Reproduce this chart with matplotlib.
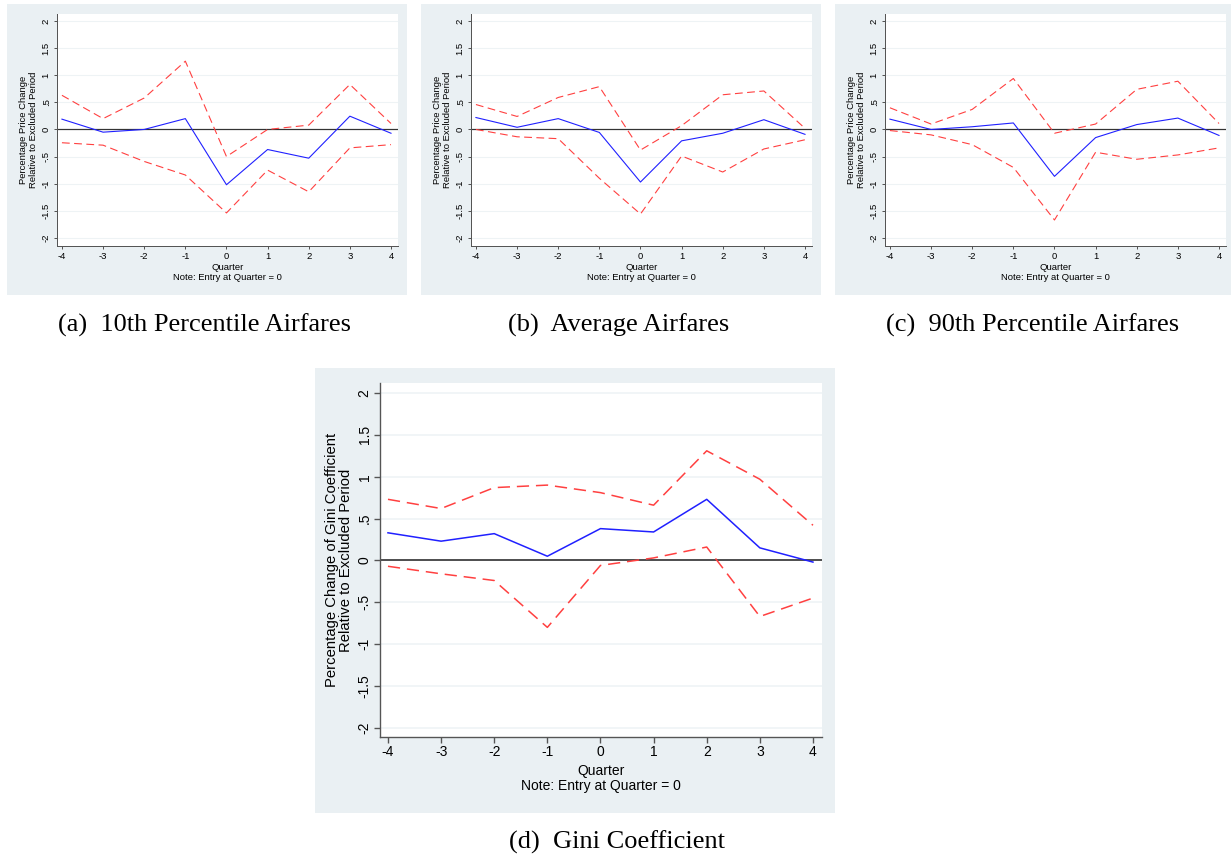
import matplotlib.pyplot as plt
import numpy as np
from matplotlib.patches import Rectangle

plt.rcParams['font.family'] = ['Liberation Sans', 'DejaVu Sans']

quarters = [-4, -3, -2, -1, 0, 1, 2, 3, 4]

# (a) 10th percentile airfares
p10_est = [0.19, -0.05, 0.0, 0.20, -1.02, -0.37, -0.53, 0.245, -0.07]
p10_hi = [0.63, 0.20, 0.58, 1.26, -0.50, 0.0, 0.08, 0.83, 0.11]
p10_lo = [-0.245, -0.29, -0.59, -0.84, -1.54, -0.75, -1.15, -0.34, -0.28]

# (b) average airfares
avg_est = [0.22, 0.04, 0.20, -0.055, -0.97, -0.21, -0.07, 0.18, -0.09]
avg_hi = [0.46, 0.24, 0.59, 0.79, -0.38, 0.07, 0.64, 0.71, 0.02]
avg_lo = [0.0, -0.135, -0.17, -0.90, -1.56, -0.49, -0.785, -0.36, -0.19]

# (c) 90th percentile airfares
p90_est = [0.19, 0.0, 0.05, 0.12, -0.865, -0.15, 0.09, 0.21, -0.11]
p90_hi = [0.40, 0.10, 0.37, 0.94, -0.07, 0.10, 0.74, 0.89, 0.11]
p90_lo = [-0.02, -0.10, -0.28, -0.70, -1.67, -0.42, -0.55, -0.47, -0.34]

# (d) gini coefficient
gini_est = [0.33, 0.23, 0.32, 0.05, 0.38, 0.34, 0.73, 0.15, -0.02]
gini_hi = [0.73, 0.62, 0.87, 0.90, 0.81, 0.66, 1.31, 0.97, 0.42]
gini_lo = [-0.07, -0.16, -0.24, -0.80, -0.06, 0.03, 0.16, -0.67, -0.45]

yticks = [-2, -1.5, -1, -0.5, 0, 0.5, 1, 1.5, 2]
ytick_labels = ['-2', '-1.5', '-1', '-.5', '0', '.5', '1', '1.5', '2']

captions = ['(a)  10th Percentile Airfares', '(b)  Average Airfares',
            '(c)  90th Percentile Airfares', '(d)  Gini Coefficient']

W, H = 1231, 858
BG = '#EAF0F3'
RED = '#FF4040'
BLUE = '#2020FF'

fig = plt.figure(figsize=(W / 100, H / 100), dpi=100)
fig.patch.set_facecolor('white')


def box(x0, y0, x1, y1):
    # pixel box (top-left origin) -> figure fraction rect
    return [x0 / W, 1 - y1 / H, (x1 - x0) / W, (y1 - y0) / H]


def panel(gray, area, est, hi, lo, ylabel, fs, yfs, lw, dash, xlim, ylim, ticklen, xpad):
    g = box(*gray)
    fig.patches.append(Rectangle((g[0], g[1]), g[2], g[3], transform=fig.transFigure,
                                 facecolor=BG, edgecolor='none', zorder=-5))
    ax = fig.add_axes(box(*area))
    ax.set_facecolor('white')
    for y in yticks:
        ax.axhline(y, color='#EEF3F5', lw=lw * 1.0, zorder=1)
    ax.axhline(0, color='#333333', lw=lw * 1.1, zorder=2)
    ax.plot(quarters, hi, color=RED, lw=lw, dashes=dash, zorder=3)
    ax.plot(quarters, lo, color=RED, lw=lw, dashes=dash, zorder=3)
    ax.plot(quarters, est, color=BLUE, lw=lw, zorder=4)
    ax.set_xlim(*xlim)
    ax.set_ylim(*ylim)
    ax.set_xticks(quarters)
    ax.set_xticklabels([str(q) for q in quarters], fontsize=fs)
    ax.set_yticks(yticks)
    ax.set_yticklabels(ytick_labels, fontsize=fs, rotation=90, va='center')
    ax.spines['top'].set_visible(False)
    ax.spines['right'].set_visible(False)
    for s in ['left', 'bottom']:
        ax.spines[s].set_color('#555555')
        ax.spines[s].set_linewidth(lw * 0.9)
    ax.tick_params(length=ticklen, width=lw * 0.9, color='#555555', pad=2)
    ax.set_xlabel('Quarter\nNote: Entry at Quarter = 0', fontsize=fs, labelpad=xpad,
                  linespacing=1.1)
    ax.set_ylabel(ylabel, fontsize=yfs, labelpad=3, linespacing=1.08)
    return ax


small_ylabel = 'Percentage Price Change\nRelative to Excluded Period'
small_sets = [(p10_est, p10_hi, p10_lo), (avg_est, avg_hi, avg_lo), (p90_est, p90_hi, p90_lo)]
offsets = [0, 414, 828]
for k, (est, hi, lo) in enumerate(small_sets):
    dx = offsets[k]
    panel((7 + dx, 4, min(407 + dx, W), 295), (57 + dx, 14, 398 + dx, 246),
          est, hi, lo, small_ylabel, 6.8, 6.8, 0.8, (7, 4),
          (-4.12, 4.17), (-2.15, 2.13), 2.5, 1.5)
    fig.text((205 + dx) / W, 1 - 325 / H, captions[k], ha='center', va='center',
             fontsize=19, family=['Liberation Serif', 'DejaVu Serif'])

panel((315, 368, 835, 813), (380, 383, 822, 737),
      gini_est, gini_hi, gini_lo,
      'Percentage Change of Gini Coefficient\nRelative to Excluded Period',
      10, 10.7, 1.1, (8, 4.5), (-4.15, 4.17), (-2.11, 2.12), 4, 3)
fig.text(617 / W, 1 - 842 / H, captions[3], ha='center', va='center',
         fontsize=19, family=['Liberation Serif', 'DejaVu Serif'])

fig.savefig('out.png', dpi=100)
